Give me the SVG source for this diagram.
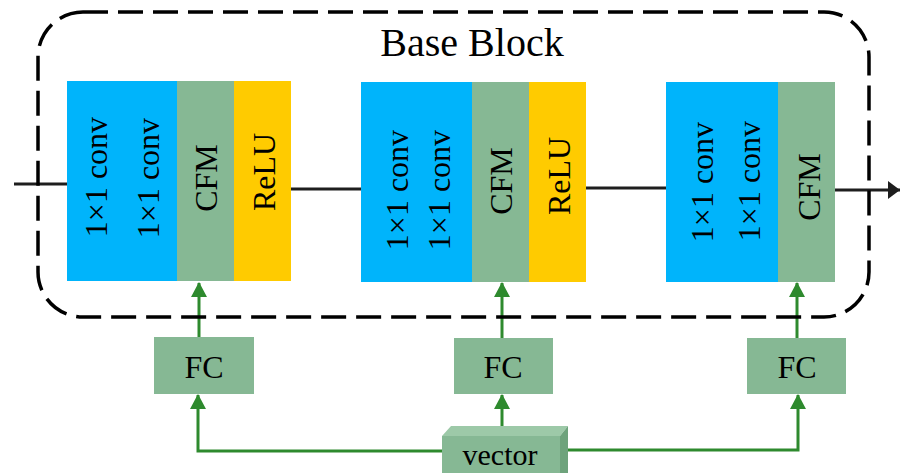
<svg xmlns="http://www.w3.org/2000/svg" width="900" height="473" viewBox="0 0 900 473">
<style>
.conv{fill:#00b4fb}
.cfm{fill:#86b894}
.relu{fill:#ffcb00}
.fc{fill:#86b894}
.t{font-family:"Liberation Serif","Times New Roman",serif;font-size:32px;fill:#000;text-anchor:middle}
.blk{stroke:#1e1e1e;stroke-width:3;fill:none}
.grn{stroke:#2e8a2e;stroke-width:3;fill:none}
</style>
<defs>
<marker id="ga" markerUnits="userSpaceOnUse" markerWidth="16" markerHeight="16" viewBox="0 0 16 16" refX="14" refY="8" orient="auto">
<path d="M0,0 L15,8 L0,16 z" fill="#2e8a2e"/>
</marker>
<marker id="ba" markerUnits="userSpaceOnUse" markerWidth="16" markerHeight="18" viewBox="0 0 16 18" refX="12" refY="9" orient="auto">
<path d="M0,0 L12,9 L0,18 z" fill="#1e1e1e"/>
</marker>
</defs>
<rect width="900" height="473" fill="#fff"/>

<g id="connectors">
<path class="blk" d="M14,184 H67"/>
<path class="blk" d="M291,189 H361"/>
<path class="blk" d="M586,188 H666"/>
<path class="blk" d="M835,190 H900" marker-end="url(#ba)"/>
<path class="grn" d="M199,337 V283" marker-end="url(#ga)"/>
<path class="grn" d="M502,338 V283" marker-end="url(#ga)"/>
<path class="grn" d="M797,338 V283" marker-end="url(#ga)"/>
<path class="grn" d="M442,451 H198 V395" marker-end="url(#ga)"/>
<path class="grn" d="M502,428 V395" marker-end="url(#ga)"/>
<path class="grn" d="M567,450 H798 V395" marker-end="url(#ga)"/>
</g>

<g id="base-block">
<rect x="38" y="12" width="831" height="305" rx="45" ry="45" fill="none" stroke="#000" stroke-width="3.5" stroke-dasharray="25 10"/>
<text class="t" x="472" y="56" style="font-size:40px">Base Block</text>
</g>

<g id="block1">
<rect class="conv" x="67" y="81" width="110" height="200"/>
<rect class="cfm" x="177" y="81" width="57" height="200"/>
<rect class="relu" x="234" y="81" width="57" height="200"/>
<text class="t" transform="translate(107,177) rotate(-90)">1×1 conv</text>
<text class="t" transform="translate(159,178) rotate(-90)">1×1 conv</text>
<text class="t" transform="translate(217,178) rotate(-90)">CFM</text>
<text class="t" transform="translate(275,172) rotate(-90)">ReLU</text>
</g>

<g id="block2">
<rect class="conv" x="361" y="82" width="111" height="200"/>
<rect class="cfm" x="472" y="82" width="57" height="200"/>
<rect class="relu" x="529" y="82" width="57" height="200"/>
<text class="t" transform="translate(408,190) rotate(-90)">1×1 conv</text>
<text class="t" transform="translate(450,190) rotate(-90)">1×1 conv</text>
<text class="t" transform="translate(512,181) rotate(-90)">CFM</text>
<text class="t" transform="translate(570,176) rotate(-90)">ReLU</text>
</g>

<g id="block3">
<rect class="conv" x="666" y="82" width="112" height="200"/>
<rect class="cfm" x="778" y="82" width="57" height="200"/>
<text class="t" transform="translate(713,182) rotate(-90)">1×1 conv</text>
<text class="t" transform="translate(760,181) rotate(-90)">1×1 conv</text>
<text class="t" transform="translate(820,187) rotate(-90)">CFM</text>
</g>

<g id="fc1">
<rect class="fc" x="154" y="337" width="100" height="57"/>
<text class="t" x="204" y="378">FC</text>
</g>
<g id="fc2">
<rect class="fc" x="454" y="338" width="99" height="56"/>
<text class="t" x="503" y="378">FC</text>
</g>
<g id="fc3">
<rect class="fc" x="747" y="338" width="99" height="56"/>
<text class="t" x="797" y="378">FC</text>
</g>

<g id="vector">
<polygon points="442,436 451,426 568,426 560,436" fill="#9dc9a8"/>
<polygon points="560,436 568,426 568,473 560,473" fill="#6ea37c"/>
<rect x="442" y="436" width="118" height="37" fill="#86b894"/>
<text class="t" x="500" y="465" style="font-size:30px">vector</text>
</g>
</svg>
